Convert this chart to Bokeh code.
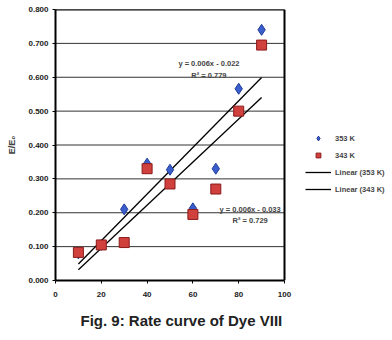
import numpy as np
from bokeh.plotting import figure
from bokeh.models import Label, Legend, LegendItem, FixedTicker, CustomJSTickFormatter, Range1d, Title, Span
from bokeh.embed import file_html
from bokeh.resources import INLINE

x_vals = [10, 20, 30, 40, 50, 60, 70, 80, 90]
k353 = [0.080, 0.105, 0.210, 0.345, 0.327, 0.213, 0.330, 0.566, 0.740]
k343 = [0.083, 0.105, 0.112, 0.330, 0.285, 0.195, 0.270, 0.500, 0.695]
x_ticks = [0, 20, 40, 60, 80, 100]
y_ticks = [0.0, 0.1, 0.2, 0.3, 0.4, 0.5, 0.6, 0.7, 0.8]
eq353 = ["y = 0.006x - 0.022", "R² = 0.779"]
eq343 = ["y = 0.006x - 0.033", "R² = 0.729"]
caption = "Fig. 9: Rate curve of Dye VIII"

FONT = "Liberation Sans"

# pixel layout: plot box from x=55 to x=284, frame extended to the right to hold the legend
LEFT, BOX_RIGHT, FRAME_RIGHT = 55, 284, 388
xmin, xmax = x_ticks[0], x_ticks[-1]
x_end = xmin + (xmax - xmin) * (FRAME_RIGHT - LEFT) / (BOX_RIGHT - LEFT)
ymin, ymax = y_ticks[0], y_ticks[-1]

p = figure(width=392, height=340, output_backend="svg", toolbar_location=None,
           x_range=Range1d(xmin, x_end), y_range=Range1d(ymin, ymax),
           min_border_left=LEFT, min_border_right=392 - FRAME_RIGHT, min_border_top=9, min_border_bottom=60)
p.outline_line_color = None
p.xgrid.visible = False
p.ygrid.visible = False
p.background_fill_color = "white"

# horizontal grid lines limited to the plot box
p.segment(x0=[xmin] * len(y_ticks), y0=y_ticks, x1=[xmax] * len(y_ticks), y1=y_ticks,
          line_color="#333333", line_width=1)

p.xaxis.ticker = FixedTicker(ticks=x_ticks)
p.yaxis.ticker = FixedTicker(ticks=y_ticks)
p.xaxis.bounds = (xmin, xmax)
p.yaxis.formatter = CustomJSTickFormatter(code="return tick.toFixed(3);")
for ax in (p.xaxis[0], p.yaxis[0]):
    ax.axis_line_color = "black"
    ax.axis_line_width = 2
    ax.major_tick_line_color = "black"
    ax.major_tick_in = 0
    ax.major_tick_out = 3
    ax.minor_tick_line_color = None
    ax.major_label_text_font = FONT
    ax.major_label_text_font_size = "8px"
    ax.major_label_text_font_style = "bold"
    ax.major_label_text_color = "#222222"
p.xaxis.major_label_standoff = 8
p.yaxis.major_label_standoff = 4
p.yaxis.axis_label = "E/E₀"
p.yaxis.axis_label_text_font = FONT
p.yaxis.axis_label_text_font_size = "9px"
p.yaxis.axis_label_text_font_style = "bold"
p.yaxis.axis_label_standoff = 8

# box border (right and top)
p.add_layout(Span(location=xmax, dimension="height", line_color="black", line_width=2))
p.segment(x0=[xmin], y0=[ymax], x1=[xmax], y1=[ymax], line_color="black", line_width=2)

xs = np.array(x_vals, dtype=float)
fit_x = np.array([xs.min(), xs.max()])
m1, b1 = np.polyfit(xs, np.array(k353), 1)
m2, b2 = np.polyfit(xs, np.array(k343), 1)
l1 = p.line(fit_x, m1 * fit_x + b1, line_color="black", line_width=1.3)
l2 = p.line(fit_x, m2 * fit_x + b2, line_color="black", line_width=1.3)

r1 = p.scatter(x_vals, k353, marker="diamond", size=11, fill_color="#3a5fcd", line_color="#1f3a99", line_width=1)
r2 = p.scatter(x_vals, k343, marker="square", size=10, fill_color="#d0413e", line_color="#8b1a1a", line_width=1)

for i, t in enumerate(eq353):
    p.add_layout(Label(x=67, y=0.640 - i * 0.035, text=t, text_font=FONT, text_font_size="7.5px",
                       text_font_style="bold", text_align="center", text_baseline="middle"))
for i, t in enumerate(eq343):
    p.add_layout(Label(x=85, y=0.210 - i * 0.033, text=t, text_font=FONT, text_font_size="7.5px",
                       text_font_style="bold", text_align="center", text_baseline="middle"))

p.add_layout(Title(text=caption, text_font=FONT, text_font_size="15px", text_font_style="bold",
                   text_color="#222222", align="left", offset=25, standoff=21), "below")

legend = Legend(items=[LegendItem(label="353 K", renderers=[r1]),
                       LegendItem(label="343 K", renderers=[r2]),
                       LegendItem(label="Linear (353 K)", renderers=[l1]),
                       LegendItem(label="Linear (343 K)", renderers=[l2])],
                location=(250, 85), border_line_color=None, background_fill_alpha=0,
                label_text_font=FONT, label_text_font_size="7.5px", label_text_font_style="bold",
                glyph_width=26, glyph_height=12, spacing=5, padding=2, label_standoff=4, margin=0)
p.add_layout(legend)

open("out.html", "w").write(file_html(p, INLINE))
